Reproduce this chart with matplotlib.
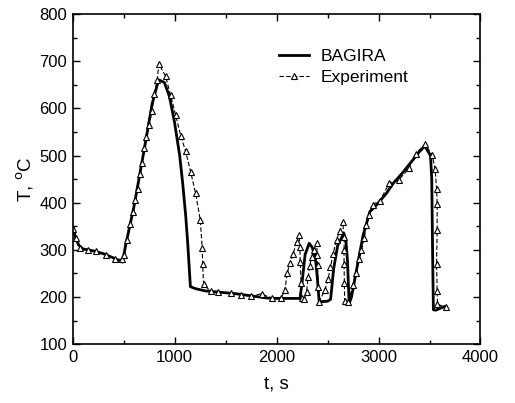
import matplotlib
matplotlib.use("Agg")
import matplotlib.pyplot as plt
from matplotlib.ticker import MultipleLocator

plt.rcParams['font.family'] = ['Liberation Sans', 'DejaVu Sans']

# BAGIRA calculation
bag_t = [0, 30, 60, 100, 200, 300, 400, 490, 520, 600, 700, 780, 830, 850, 900, 950, 1000,
         1050, 1080, 1110, 1130, 1155, 1200, 1300, 1400, 1500, 1600, 1700, 1800, 1900, 2000,
         2100, 2230, 2250, 2280, 2320, 2350, 2380, 2400, 2418, 2500, 2530, 2560, 2600, 2660,
         2680, 2695, 2712, 2735, 2784, 2849, 2915, 2980, 3078, 3143, 3230, 3323, 3400, 3454,
         3510, 3522, 3530, 3538, 3560, 3650]
bag_T = [350, 325, 310, 302, 298, 292, 283, 274, 310, 390, 510, 610, 650, 660, 655, 625, 570,
         500, 440, 370, 310, 222, 218, 213, 211, 209, 207, 204, 201, 198, 197,
         197, 197, 230, 290, 314, 305, 285, 240, 190, 191, 195, 260, 310, 335,
         320, 278, 186, 200, 257, 331, 381, 395, 420, 441, 462, 487, 508, 520,
         500, 450, 300, 173, 172, 180]

# Experiment
exp_t = [0, 30, 70, 150, 230, 330, 420, 480, 500, 530, 560, 590, 610, 640, 660, 680, 700,
         720, 750, 780, 800, 830, 845, 912, 961, 1010, 1062, 1108, 1157, 1206, 1252, 1271,
         1275, 1284, 1353, 1428, 1550, 1650, 1750, 1853, 1951, 2040, 2081, 2104, 2130, 2163,
         2196, 2222, 2229, 2232, 2240, 2245, 2271, 2294, 2310, 2325, 2343, 2370, 2392, 2400,
         2402, 2408, 2418, 2474, 2506, 2529, 2555, 2588, 2620, 2647, 2665, 2662, 2662, 2665,
         2668, 2702, 2751, 2777, 2810, 2833, 2860, 2882, 2905, 2941, 3013, 3105, 3203, 3301,
         3366, 3454, 3526, 3555, 3569, 3575, 3575, 3569, 3575, 3578, 3657]
exp_T = [345, 325, 305, 300, 297, 290, 280, 280, 290, 320, 355, 380, 405, 430, 460, 485, 515,
         540, 565, 595, 630, 660, 695, 668, 628, 586, 541, 509, 466, 420, 363, 303,
         271, 227, 212, 210, 208, 205, 202, 207, 197, 197, 214, 250, 272, 292,
         317, 331, 306, 274, 230, 197, 195, 211, 243, 265, 285, 300, 314, 290,
         268, 222, 190, 215, 239, 264, 292, 321, 340, 359, 328, 300, 270, 230,
         192, 190, 225, 250, 280, 299, 325, 352, 374, 396, 404, 441, 449, 474,
         504, 524, 502, 471, 430, 398, 342, 271, 212, 185, 178]

fig = plt.figure(figsize=(5.15, 4.03), dpi=100)
ax = fig.add_axes([0.141, 0.146, 0.792, 0.819])

ax.plot(bag_t, bag_T, color='black', lw=2.0, label='BAGIRA')
ax.plot(exp_t, exp_T, color='black', lw=0.8, ls=(0, (4, 2)), marker='^', ms=4.2,
        mfc='white', mec='black', mew=0.8, label='Experiment')

ax.set_xlim(0, 4000)
ax.set_ylim(100, 800)
ax.xaxis.set_major_locator(MultipleLocator(1000))
ax.xaxis.set_minor_locator(MultipleLocator(500))
ax.yaxis.set_major_locator(MultipleLocator(100))
ax.yaxis.set_minor_locator(MultipleLocator(50))
ax.tick_params(which='both', direction='in', top=True, right=True, labelsize=12, width=1)
ax.tick_params(which='major', length=5, pad=4)
ax.tick_params(which='minor', length=3)
for s in ax.spines.values():
    s.set_linewidth(1.2)

ax.set_xlabel('t, s', fontsize=13.5, labelpad=8)
ax.set_ylabel('T, $^{\\rm o}$C', fontsize=13.5, labelpad=2)

ax.legend(loc='upper left', bbox_to_anchor=(0.49, 0.915), frameon=False, fontsize=12.5,
          handlelength=1.7, handletextpad=0.7, labelspacing=0.35, borderaxespad=0)

fig.savefig('out.png', dpi=100)
